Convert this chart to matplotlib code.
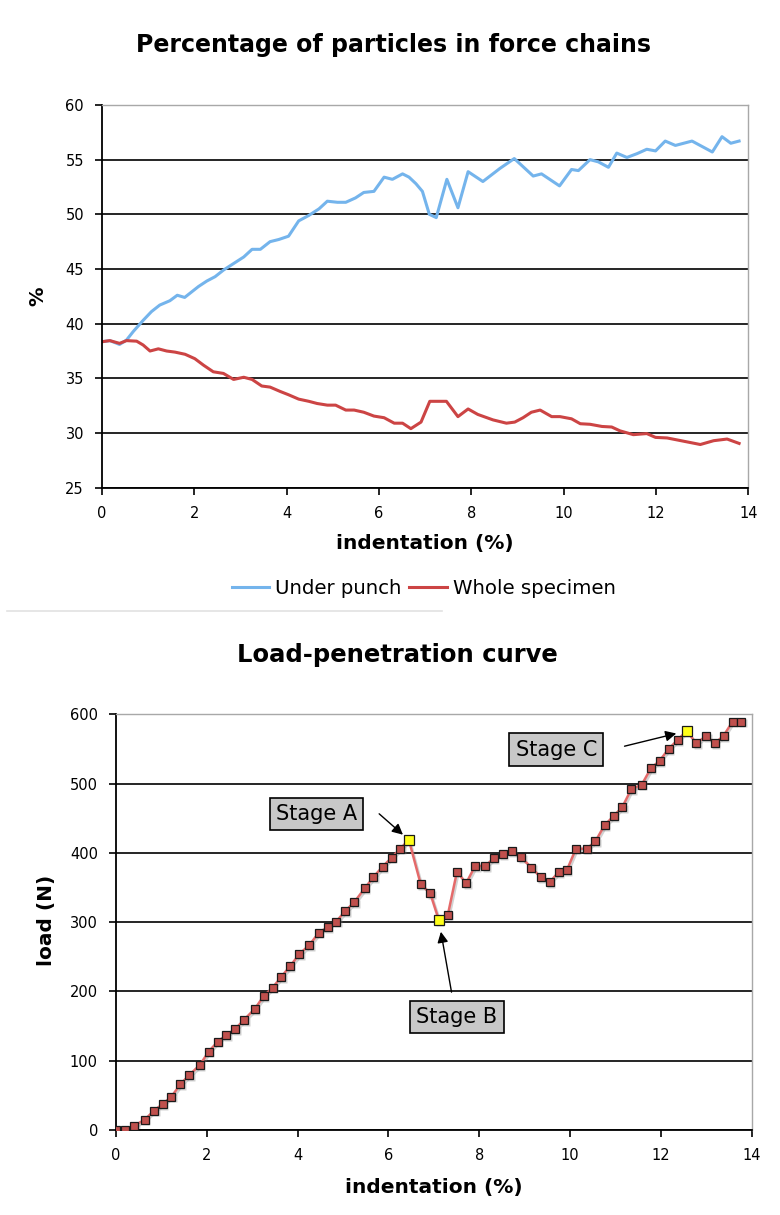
import numpy as np
import matplotlib
matplotlib.use('Agg')
import matplotlib.pyplot as plt
from matplotlib import transforms

# ---- data ----
# top chart: percentage of particles in force chains
punch_x = [0, 0.17, 0.38, 0.53, 0.68, 0.89, 1.07, 1.25, 1.47, 1.63, 1.79, 1.91,
           2.09, 2.27, 2.45, 2.63, 2.85, 3.07, 3.25, 3.43, 3.64, 3.83, 4.04,
           4.26, 4.48, 4.70, 4.88, 5.10, 5.28, 5.49, 5.67, 5.89, 6.11, 6.29,
           6.51, 6.65, 6.80, 6.94, 7.09, 7.24, 7.47, 7.71, 7.93, 8.25, 8.62,
           8.93, 9.34, 9.52, 9.91, 10.17, 10.32, 10.57, 10.75, 10.97, 11.15,
           11.37, 11.59, 11.80, 11.99, 12.20, 12.42, 12.78, 13.22, 13.43, 13.62,
           13.80]
punch_y = [38.35, 38.45, 38.1, 38.5, 39.3, 40.3, 41.1, 41.7, 42.1, 42.6, 42.4,
           42.8, 43.4, 43.9, 44.3, 44.9, 45.5, 46.1, 46.8, 46.8, 47.5, 47.7,
           48.0, 49.4, 49.9, 50.5, 51.2, 51.1, 51.1, 51.5, 52.0, 52.1, 53.4,
           53.2, 53.7, 53.4, 52.8, 52.1, 50.0, 49.7, 53.2, 50.6, 53.9, 53.0,
           54.2, 55.1, 53.5, 53.7, 52.6, 54.1, 54.0, 55.0, 54.8, 54.3, 55.6,
           55.2, 55.55, 55.95, 55.8, 56.7, 56.3, 56.7, 55.7, 57.1, 56.5, 56.7]

whole_x = [0, 0.17, 0.38, 0.53, 0.75, 0.89, 1.04, 1.22, 1.40, 1.58, 1.80, 2.01,
           2.20, 2.41, 2.63, 2.85, 3.07, 3.25, 3.46, 3.64, 3.86, 4.04, 4.26,
           4.48, 4.66, 4.88, 5.06, 5.28, 5.46, 5.67, 5.89, 6.11, 6.33, 6.51,
           6.69, 6.91, 7.10, 7.46, 7.71, 7.93, 8.14, 8.47, 8.76, 8.94, 9.12,
           9.30, 9.49, 9.74, 9.92, 10.17, 10.36, 10.57, 10.83, 11.04, 11.22,
           11.51, 11.80, 11.99, 12.24, 12.60, 12.96, 13.25, 13.54, 13.80]
whole_y = [38.35, 38.45, 38.2, 38.45, 38.4, 38.05, 37.5, 37.7, 37.5, 37.4, 37.2,
           36.8, 36.2, 35.6, 35.45, 34.9, 35.1, 34.9, 34.3, 34.2, 33.8, 33.5,
           33.1, 32.9, 32.7, 32.55, 32.55, 32.1, 32.1, 31.9, 31.55, 31.4, 30.9,
           30.9, 30.4, 31.0, 32.9, 32.9, 31.5, 32.2, 31.7, 31.2, 30.9, 31.0,
           31.4, 31.9, 32.1, 31.5, 31.5, 31.3, 30.85, 30.8, 30.6, 30.55, 30.2,
           29.85, 29.95, 29.6, 29.55, 29.25, 28.95, 29.3, 29.45, 29.05]

# bottom chart: load-penetration curve
indent = [0, 0.20, 0.40, 0.635, 0.84, 1.03, 1.22, 1.42, 1.61, 1.85,
          2.04, 2.24, 2.43, 2.63, 2.82, 3.06, 3.25, 3.45, 3.64, 3.83,
          4.04, 4.26, 4.47, 4.66, 4.85, 5.05, 5.25, 5.48, 5.67, 5.87,
          6.07, 6.26, 6.45, 6.71, 6.92, 7.11, 7.31, 7.51, 7.71, 7.91,
          8.13, 8.32, 8.52, 8.72, 8.92, 9.15, 9.35, 9.55, 9.75, 9.93,
          10.13, 10.37, 10.56, 10.76, 10.96, 11.15, 11.35, 11.58, 11.78, 11.97,
          12.17, 12.37, 12.57, 12.78, 13.0, 13.19, 13.38, 13.58, 13.77]
load = [0, 0, 6, 15, 28, 37.5, 48, 66, 79, 94,
        113, 127.5, 137, 146, 159, 175, 193, 205.5, 221, 236,
        254, 267, 285, 292.6, 300.8, 316, 329, 349, 365, 380,
        393, 406, 418.7, 355, 341.7, 303, 311, 373, 356, 381,
        381, 392, 398.5, 402, 393.6, 378.7, 365, 357.5, 372.5, 375,
        406, 406, 416.7, 440, 453, 466, 492, 498.5, 522, 532.7,
        550, 563, 576, 558, 569, 558, 569, 589.5, 589.5]

stage_names = ['Stage A', 'Stage B', 'Stage C']
stage_x = [6.45, 7.11, 12.57]
stage_y = [418.7, 303, 576]
label_pos = [(4.42, 456), (7.51, 163), (9.70, 549)]
arrow_tail = [(5.75, 459), (7.40, 195), (11.14, 553)]

plt.rcParams['font.family'] = 'DejaVu Sans'

fig = plt.figure(figsize=(7.8, 12.15), dpi=100)


def style_axes(ax, ymax):
    for s in ['top', 'right']:
        ax.spines[s].set_color('#a8a8a8')
        ax.spines[s].set_linewidth(1.0)
    for s in ['left', 'bottom']:
        ax.spines[s].set_color('black')
        ax.spines[s].set_linewidth(1.3)
    ax.tick_params(direction='out', length=5, width=1.2, labelsize=10.5,
                   colors='black', pad=8)
    ax.yaxis.grid(True, color='black', linewidth=1.2)
    ax.set_axisbelow(True)
    # no black gridline on the top border
    for line, t in zip(ax.get_ygridlines(), ax.get_yticks()):
        if t >= ymax:
            line.set_visible(False)


# ---- top chart ----
ax1 = fig.add_axes([0.1308, 0.5986, 0.8286, 0.3150])
ax1.plot(punch_x, punch_y, color='#74b4ec', lw=2.2, label='Under punch')
ax1.plot(whole_x, whole_y, color='#cc4444', lw=2.2, label='Whole specimen')
ax1.set_xlim(0, 14)
ax1.set_ylim(25, 60)
ax1.set_xticks(np.arange(0, 15, 2))
ax1.set_yticks(np.arange(25, 61, 5))
style_axes(ax1, 60)
ax1.set_xlabel('indentation (%)', fontsize=14.5, fontweight='bold')
ax1.xaxis.set_label_coords(0.5, -0.122)
ax1.set_ylabel('%', fontsize=14, fontweight='bold')
ax1.yaxis.set_label_coords(-0.084, 0.5)

fig.text(0.505, 0.963, 'Percentage of particles in force chains',
         ha='center', va='center', fontsize=17, fontweight='bold')

fig.legend(handles=ax1.get_lines(), loc='center', bbox_to_anchor=(0.543, 0.516),
           ncol=2, frameon=False, fontsize=14.2, handlelength=1.9,
           handletextpad=0.3, columnspacing=0.4)

# thin separator under the legend
fig.add_artist(plt.Line2D([7 / 780, 442 / 780], [1 - 610.7 / 1215] * 2,
                          color='#e2e2e2', lw=1.2))

# ---- bottom chart ----
ax2 = fig.add_axes([0.1487, 0.0700, 0.8150, 0.3421])
shadow = transforms.offset_copy(ax2.transData, fig=fig, x=1.5, y=-1.8, units='dots')
ax2.plot(indent, load, color='#808080', alpha=0.35, lw=1.8, marker='s', ms=5.2,
         mec='none', transform=shadow, zorder=2)
ax2.plot(indent, load, color='#e46a6a', lw=1.8, marker='s', ms=5.2,
         mfc='#c0504d', mec='#1a1a1a', mew=0.9, zorder=3)
ax2.plot(stage_x, stage_y, ls='none', marker='s', ms=7, mfc='#ffff1a',
         mec='#1a1a1a', mew=0.9, zorder=4)

for name, (tx, ty), (ax_, ay_), sx, sy in zip(stage_names, label_pos, arrow_tail,
                                               stage_x, stage_y):
    ax2.text(tx, ty, name, ha='center', va='center', fontsize=15, zorder=5,
             bbox=dict(boxstyle='square,pad=0.3', fc='#c8c8c8', ec='black', lw=1.2))
    ax2.annotate('', xy=(sx - (sx - ax_) * 0.12, sy - (sy - ay_) * 0.12),
                 xytext=(ax_, ay_),
                 arrowprops=dict(arrowstyle='-|>', color='black', lw=1.0,
                                 mutation_scale=16), zorder=5)

ax2.set_xlim(0, 14)
ax2.set_ylim(0, 600)
ax2.set_xticks(np.arange(0, 15, 2))
ax2.set_yticks(np.arange(0, 601, 100))
style_axes(ax2, 600)
ax2.set_xlabel('indentation (%)', fontsize=14.5, fontweight='bold')
ax2.xaxis.set_label_coords(0.5, -0.115)
ax2.set_ylabel('load (N)', fontsize=14.5, fontweight='bold')
ax2.yaxis.set_label_coords(-0.094, 0.505)

fig.text(0.51, 0.461, 'Load-penetration curve', ha='center', va='center',
         fontsize=17.5, fontweight='bold')

fig.savefig('out.png', dpi=100, facecolor='white')
